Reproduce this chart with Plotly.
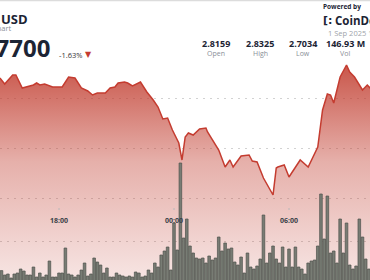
import pandas as pd
import plotly.graph_objects as go

# ---- price line (time, price) ----
price_times = [
    "2025-08-31 14:55", "2025-08-31 15:10", "2025-08-31 15:35", "2025-08-31 15:45",
    "2025-08-31 16:05", "2025-08-31 16:40", "2025-08-31 16:50", "2025-08-31 17:00",
    "2025-08-31 17:15", "2025-08-31 17:40", "2025-08-31 18:10", "2025-08-31 18:30",
    "2025-08-31 18:50", "2025-08-31 19:10", "2025-08-31 19:30", "2025-08-31 19:45",
    "2025-08-31 20:00", "2025-08-31 20:25", "2025-08-31 20:40", "2025-08-31 20:55",
    "2025-08-31 21:05", "2025-08-31 21:25", "2025-08-31 21:35", "2025-08-31 21:50",
    "2025-08-31 22:15", "2025-08-31 22:35", "2025-08-31 22:55", "2025-08-31 23:10",
    "2025-08-31 23:25", "2025-08-31 23:40", "2025-08-31 23:55", "2025-09-01 00:15",
    "2025-09-01 00:25", "2025-09-01 00:35", "2025-09-01 00:45", "2025-09-01 01:00",
    "2025-09-01 01:20", "2025-09-01 01:40", "2025-09-01 01:45", "2025-09-01 02:10",
    "2025-09-01 02:20", "2025-09-01 02:40", "2025-09-01 02:55", "2025-09-01 03:05",
    "2025-09-01 03:30", "2025-09-01 03:55", "2025-09-01 04:05", "2025-09-01 04:20",
    "2025-09-01 04:40", "2025-09-01 05:10", "2025-09-01 05:20", "2025-09-01 05:25",
    "2025-09-01 05:45", "2025-09-01 06:00", "2025-09-01 06:20", "2025-09-01 06:35",
    "2025-09-01 07:00", "2025-09-01 07:30", "2025-09-01 07:45", "2025-09-01 08:00",
    "2025-09-01 08:10", "2025-09-01 08:20", "2025-09-01 08:40", "2025-09-01 09:00",
    "2025-09-01 09:10", "2025-09-01 09:25", "2025-09-01 09:50", "2025-09-01 10:05",
    "2025-09-01 10:20",
]
prices = [
    2.820, 2.814, 2.823, 2.823,
    2.810, 2.813, 2.815, 2.813,
    2.814, 2.811, 2.811, 2.821,
    2.820, 2.810, 2.807, 2.803,
    2.805, 2.805, 2.810, 2.811,
    2.815, 2.816, 2.815, 2.812,
    2.816, 2.806, 2.798, 2.791,
    2.779, 2.780, 2.768, 2.755,
    2.738, 2.761, 2.765, 2.763,
    2.769, 2.770, 2.766, 2.753,
    2.748, 2.731, 2.738, 2.731,
    2.742, 2.743, 2.737, 2.736,
    2.720, 2.703, 2.730, 2.731,
    2.733, 2.721, 2.731, 2.738,
    2.731, 2.751, 2.788, 2.804,
    2.803, 2.795, 2.821, 2.833,
    2.826, 2.821, 2.808, 2.813,
    2.808,
]

# ---- 10-minute volume bars (millions) ----
vol_start = "2025-08-31 15:00"
volumes = [
    1.02, 0.80, 0.85, 0.65, 0.85, 0.90, 1.10, 1.00, 0.80, 0.80,
    1.20, 0.70, 0.90, 0.70, 0.80, 1.50, 0.70, 0.70, 0.90, 0.90,
    2.15, 0.85, 0.80, 0.70, 0.80, 1.05, 1.40, 0.75, 0.85, 1.65,
    1.45, 1.30, 0.90, 1.15, 0.70, 0.70, 0.90, 0.80, 0.75, 0.70,
    0.75, 0.70, 0.95, 0.90, 0.70, 0.75, 1.05, 0.90, 1.40, 1.20,
    1.80, 2.00, 2.20, 1.05, 3.40, 2.05, 6.40, 2.65,
    3.60, 2.25, 1.90, 1.65, 1.60, 1.65, 1.40, 1.75, 1.55, 1.65,
    2.70, 2.00, 2.40, 2.10, 2.15, 1.45, 1.30, 1.70, 0.90, 1.90,
    1.20, 1.10, 1.25, 1.60, 3.80, 1.40, 1.90, 2.25, 1.60, 1.40,
    2.20, 1.20, 2.10, 1.20, 2.20, 1.20, 1.10, 0.85, 1.40, 1.50,
    1.55, 2.25, 4.85, 2.60, 4.75, 1.90, 2.00, 1.40, 3.60, 1.90,
    3.40, 1.30, 1.10, 1.25, 3.60, 2.70, 1.60, 1.10,
]
vol_times = pd.date_range(vol_start, periods=len(volumes), freq="10min")

price_grid = [2.70, 2.75, 2.80]
vol_grid = [2.5]
time_ticks = ["2025-08-31 18:00", "2025-09-01 00:00", "2025-09-01 06:00"]
time_labels = ["18:00", "00:00", "06:00"]

stats_values = ["2.8159", "2.8325", "2.7034", "146.93 M"]
stats_labels = ["Open", "High", "Low", "Vol"]

W, H = 370, 280
RED = "rgb(196,60,48)"

fig = go.Figure()
fig.add_trace(go.Scatter(
    x=price_times, y=prices, mode="lines",
    line=dict(color=RED, width=1.5, shape="linear"),
    fill="tozeroy",
    fillgradient=dict(
        type="vertical", start=2.618, stop=2.833,
        colorscale=[[0, "rgba(192,57,43,0.13)"], [0.55, "rgba(192,57,43,0.40)"],
                    [1, "rgba(192,57,43,0.85)"]],
    ),
    hoverinfo="skip", showlegend=False,
))
fig.add_trace(go.Bar(
    x=vol_times, y=volumes, yaxis="y2",
    marker=dict(color="rgb(120,124,116)", line=dict(color="rgb(78,82,76)", width=0.7)),
    hoverinfo="skip", showlegend=False,
))

def px(x):
    return x / W

def py(y):
    return 1 - y / H

ann = []
FONT = "Open Sans"
DARK = "#1c2434"
GRAY = "#8a8f98"
ann.append(dict(x=px(-1), y=py(19), text="<b>USD</b>", xanchor="left", yanchor="middle",
                font=dict(family=FONT, size=13, color=DARK)))
ann.append(dict(x=px(13.5), y=py(28.5), text="Chart", xanchor="right", yanchor="middle",
                font=dict(family=FONT, size=7.5, color=GRAY)))
ann.append(dict(x=px(51.5), y=py(47.5), text="<b>2.7700</b>", xanchor="right", yanchor="middle",
                font=dict(family=FONT, size=24, color=DARK)))
ann.append(dict(x=px(57), y=py(55), text="-1.63%", xanchor="left", yanchor="middle",
                font=dict(family=FONT, size=7.5, color="#333")))
ann.append(dict(x=px(88.5), y=py(55), text="▼", xanchor="center", yanchor="middle",
                font=dict(family="DejaVu Sans", size=8, color=RED)))
ann.append(dict(x=px(321), y=py(6.5), text="<b>Powered by</b>", xanchor="left", yanchor="middle",
                font=dict(family=FONT, size=6.5, color=DARK)))
ann.append(dict(x=px(321), y=py(20.5), text="<b>[:</b>", xanchor="left", yanchor="middle",
                font=dict(family="DejaVu Sans", size=11, color=DARK)))
ann.append(dict(x=px(332.5), y=py(20.5), text="<b>CoinDesk</b>", xanchor="left", yanchor="middle",
                font=dict(family=FONT, size=11.5, color=DARK)))
ann.append(dict(x=px(326), y=py(33), text="1 Sep 2025 12:00", xanchor="left", yanchor="middle",
                font=dict(family=FONT, size=7.5, color="#a0a4aa")))
for cx, v, l in zip([216, 260, 303, 345], stats_values, stats_labels):
    ann.append(dict(x=px(cx), y=py(43.5), text="<b>" + v + "</b>", xanchor="center",
                    yanchor="middle", font=dict(family=FONT, size=9, color=DARK)))
    ann.append(dict(x=px(cx), y=py(54), text=l, xanchor="center", yanchor="middle",
                    font=dict(family=FONT, size=7, color=GRAY)))
for t, lab in zip(time_ticks, time_labels):
    ann.append(dict(x=t, xref="x", y=py(220.5), text="<b>" + lab + "</b>", xanchor="center",
                    yanchor="middle", font=dict(family=FONT, size=7, color="#3a3f48")))
for a in ann:
    a.setdefault("xref", "paper")
    a.setdefault("yref", "paper")
    a["showarrow"] = False

shapes = [dict(type="line", xref="paper", yref="paper", x0=0, x1=1, y0=py(0.5), y1=py(0.5),
               line=dict(color="#dcdcdc", width=1.5))]
for t in time_ticks:
    shapes.append(dict(type="line", xref="x", yref="paper", x0=t, x1=t, y0=py(208), y1=py(210),
                       line=dict(color="#b8b8b8", width=1)))

fig.update_layout(
    width=W, height=H,
    margin=dict(l=0, r=0, t=0, b=0),
    paper_bgcolor="white", plot_bgcolor="white",
    bargap=0.18,
    xaxis=dict(range=["2025-08-31 14:55:20", "2025-09-01 10:13:30"], showgrid=False,
               zeroline=False, showticklabels=False, ticks="", showline=False),
    yaxis=dict(range=[2.618, 2.898], tickvals=price_grid, showticklabels=False,
               showgrid=True, gridcolor="#d2d2d2", griddash="2px,5px", gridwidth=1,
               zeroline=False, showline=False),
    yaxis2=dict(range=[0.55, 14.55], overlaying="y", side="right", tickvals=vol_grid,
                showticklabels=False, showgrid=True, gridcolor="#d2d2d2",
                griddash="2px,5px", zeroline=False, showline=False),
    annotations=ann, shapes=shapes,
)
fig.write_html("out.html")
